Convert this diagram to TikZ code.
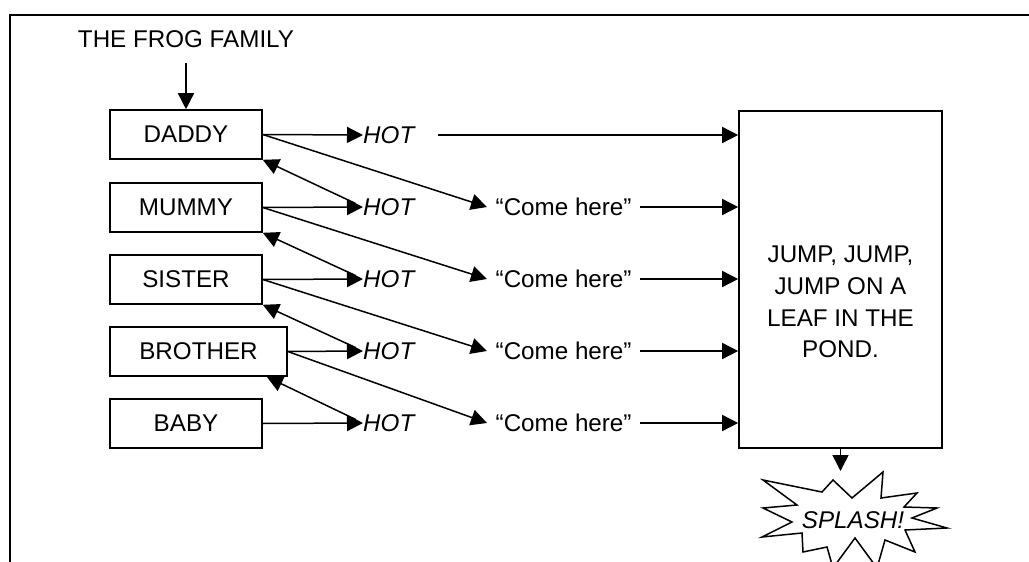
\documentclass[tikz,border=0pt]{standalone}
\usepackage{fontspec}
\setmainfont{Liberation Sans}
\usetikzlibrary{arrows.meta}
\begin{document}
\begin{tikzpicture}[x=1pt,y=-1pt,
  every node/.style={font=\fontsize{24.2}{31.6}\selectfont},
  member/.style={draw,line width=1.6pt,minimum width=152pt,minimum height=49pt,inner sep=0pt},
  hot/.style={anchor=west,inner sep=0pt,font=\fontsize{24.2}{31.6}\selectfont\itshape},
  come/.style={inner xsep=8.5pt,inner ysep=0pt},
  arr/.style={line width=1.5pt,-{Triangle[length=16pt,width=16pt]}},
  frame/.style={line width=2.4pt}]
\useasboundingbox (0,0) rectangle (1029,562);
% outer frame
\draw[frame] (10,566) -- (10,15) -- (1035,15);
% title
\node[inner xsep=0pt,inner ysep=15pt] (title) at (186,39.5) {THE FROG FAMILY};
% family boxes
\node[member] (daddy) at (186,134.5) {DADDY};
\node[member] (mummy) at (186,207.5) {MUMMY};
\node[member] (sister) at (186,279.5) {SISTER};
\node[member,minimum width=177pt] (brother) at (198.5,351.5) {BROTHER};
\node[member] (baby) at (186,423.5) {BABY};
% HOT labels
\node[hot] (hot1) at (363,135) {HOT};
\node[hot] (hot2) at (363,207) {HOT};
\node[hot] (hot3) at (363,279) {HOT};
\node[hot] (hot4) at (363,351) {HOT};
\node[hot] (hot5) at (363,423) {HOT};
% Come here labels
\node[come,anchor=west] (come1) at (487,207) {“Come here”};
\node[come,anchor=west] (come2) at (487,279) {“Come here”};
\node[come,anchor=west] (come3) at (487,351) {“Come here”};
\node[come,anchor=west] (come4) at (487,423) {“Come here”};
% big box
\node[draw,line width=1.6pt,minimum width=203pt,minimum height=337pt,inner sep=0pt] (jump) at (840.5,279.5) {};
\node[align=center,inner sep=0pt] (jumptext) at (840.5,302) {JUMP, JUMP,\\JUMP ON A\\LEAF IN THE\\POND.};
% splash
\draw[line width=1.5pt,line join=miter] (883,472) -- (881,498) -- (917,493) -- (904,507) -- (937,508) -- (912,518) -- (947,528) -- (905,530) -- (915,552) -- (885,540) -- (877,568) -- (855,538) -- (833,568) -- (827,547) -- (803,552) -- (802,533) -- (762,537) -- (792,522) -- (763,508) -- (797,505) -- (763,480) -- (822,492) -- (833,480) -- (852,498) -- cycle;
\coordinate (splashtop) at (840.5,471);
\node[inner sep=0pt,font=\fontsize{24.2}{31.6}\selectfont\itshape] (splash) at (853,520) {SPLASH!};
% arrows
\draw[arr] (title.south) -- (daddy.north);
\draw[arr] (daddy.east) -- (hot1.west);
\draw[arr] (mummy.east) -- (hot2.west);
\draw[arr] (sister.east) -- (hot3.west);
\draw[arr] (brother.east) -- (hot4.west);
\draw[arr] (baby.east) -- (hot5.west);
\draw[arr,shorten <=8pt] (hot2.west) -- (daddy.south east);
\draw[arr,shorten <=8pt] (hot3.west) -- (mummy.south east);
\draw[arr,shorten <=8pt] (hot4.west) -- (sister.south east);
\draw[arr,shorten <=8pt] (hot5.west) -- ([xshift=4pt]daddy.east |- brother.south);
\draw[arr] (daddy.east) -- (come1.west);
\draw[arr] (mummy.east) -- (come2.west);
\draw[arr] (sister.east) -- (come3.west);
\draw[arr] (brother.east) -- (come4.west);
\draw[arr,shorten <=24pt] (hot1.east) -- (hot1.east -| jump.west);
\draw[arr] (come1.east) -- (come1.east -| jump.west);
\draw[arr] (come2.east) -- (come2.east -| jump.west);
\draw[arr] (come3.east) -- (come3.east -| jump.west);
\draw[arr] (come4.east) -- (come4.east -| jump.west);
\draw[arr] (jump.south) -- (splashtop);
\end{tikzpicture}
\end{document}
